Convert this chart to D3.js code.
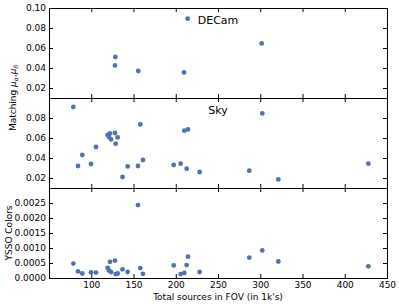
<!DOCTYPE html>
<html>
<head>
<meta charset="utf-8">
<script src="https://cdn.jsdelivr.net/npm/d3@7"></script>
<style>
  body { margin: 0; background: #fff; }
  svg { display: block; font-family: "DejaVu Sans", sans-serif; }
</style>
</head>
<body>
<svg id="chart" width="399" height="307"></svg>
<script>
// DECam matching
const decamX = [128.5, 128.1, 155.7, 209.8, 214.1, 301.7];
const decamY = [0.051, 0.0426, 0.037, 0.0356, 0.0893, 0.0646];

// Sky matching + YSSO colours share the same fields
const skyX = [78.8, 84.3, 89.4, 99.7, 105.6, 119.4, 121.0, 122.2, 123.4, 128.1, 128.9, 131.3,
              137.0, 143.1, 155.3, 158.0, 161.2, 197.6, 205.8, 210.1, 212.9, 214.5, 228.3,
              287.0, 302.4, 321.4, 427.9];
const skyY = [0.091, 0.032, 0.043, 0.034, 0.051, 0.063, 0.061, 0.0646, 0.0586, 0.065, 0.0543, 0.0606,
              0.021, 0.0316, 0.032, 0.0736, 0.038, 0.033, 0.0343, 0.0673, 0.0293, 0.0686, 0.026,
              0.0273, 0.0846, 0.0186, 0.0343];
const yssoY = [0.00048, 0.00022, 0.00015, 0.00019, 0.00018, 0.00034, 0.00025, 0.00054, 0.0002, 0.00058, 0.00013, 0.00015,
               0.00029, 0.0002, 0.00243, 0.00033, 0.00014, 0.00042, 0.00013, 0.00017, 0.00043, 0.00071, 0.0002,
               0.00068, 0.00092, 0.00055, 0.00039];

const xTicks = [100, 150, 200, 250, 300, 350, 400, 450];
const matchTicks = [0.02, 0.04, 0.06, 0.08, 0.10];
const yssoTicks = [0, 0.0005, 0.001, 0.0015, 0.002, 0.0025, 0.003];

const svg = d3.select('#chart');
const left = 49, right = 387, panelH = 90, top0 = 8;
const dotColor = '#4c72b0';

const x = d3.scaleLinear().domain([50, 450]).range([left, right]);

const panels = [
  { xs: decamX, ys: decamY, domain: [0.01, 0.10], ticks: matchTicks, fmt: d3.format('.2f'), labels: [0.02, 0.04, 0.06, 0.08, 0.10], title: 'DECam' },
  { xs: skyX, ys: skyY, domain: [0.01, 0.10], ticks: matchTicks, fmt: d3.format('.2f'), labels: [0.02, 0.04, 0.06, 0.08], title: 'Sky' },
  { xs: skyX, ys: yssoY, domain: [0, 0.003], ticks: yssoTicks, fmt: d3.format('.4f'), labels: [0, 0.0005, 0.001, 0.0015, 0.002, 0.0025], title: null }
];

panels.forEach((p, i) => {
  const t = top0 + i * panelH, b = t + panelH;
  const y = d3.scaleLinear().domain(p.domain).range([b, t]);
  const g = svg.append('g');

  // left axis with labels, ticks pointing inward
  g.append('g')
    .attr('transform', `translate(${left},0)`)
    .call(d3.axisLeft(y).tickValues(p.labels).tickFormat(p.fmt).tickSize(-4).tickPadding(3))
    .call(a => a.select('.domain').remove())
    .call(a => a.selectAll('text').attr('font-size', 9).attr('font-family', 'DejaVu Sans').attr('fill', '#000'))
    .call(a => a.selectAll('line').attr('stroke', '#000'));

  // right ticks
  g.append('g')
    .attr('transform', `translate(${right},0)`)
    .call(d3.axisRight(y).tickValues(p.ticks).tickFormat('').tickSize(-4))
    .call(a => a.select('.domain').remove())
    .call(a => a.selectAll('line').attr('stroke', '#000'));

  // top and bottom ticks
  g.append('g')
    .attr('transform', `translate(0,${t})`)
    .call(d3.axisTop(x).tickValues(xTicks).tickFormat('').tickSize(-4))
    .call(a => a.select('.domain').remove())
    .call(a => a.selectAll('line').attr('stroke', '#000'));

  const bottom = g.append('g')
    .attr('transform', `translate(0,${b})`)
    .call(d3.axisBottom(x).tickValues(xTicks).tickFormat(i === 2 ? d3.format('d') : '').tickSize(-4).tickPadding(4))
    .call(a => a.select('.domain').remove())
    .call(a => a.selectAll('line').attr('stroke', '#000'));
  bottom.selectAll('text').attr('font-size', 9).attr('font-family', 'DejaVu Sans').attr('fill', '#000');

  g.selectAll('circle')
    .data(p.xs.map((v, k) => [v, p.ys[k]]))
    .join('circle')
    .attr('cx', d => x(d[0]))
    .attr('cy', d => y(d[1]))
    .attr('r', 2.4)
    .attr('fill', dotColor);

  g.append('rect')
    .attr('x', left + 0.5).attr('y', t + 0.5)
    .attr('width', right - left).attr('height', panelH)
    .attr('fill', 'none').attr('stroke', '#000').attr('stroke-width', 1);

  if (p.title) {
    g.append('text')
      .attr('x', (left + right) / 2).attr('y', t + 16)
      .attr('text-anchor', 'middle')
      .attr('font-size', 11)
      .text(p.title);
  }
});

// axis labels
svg.append('text')
  .attr('x', (left + right) / 2).attr('y', 300)
  .attr('text-anchor', 'middle').attr('font-size', 9)
  .text("Total sources in FOV (in 1k's)");

const ml = svg.append('text')
  .attr('transform', `translate(16,${top0 + panelH}) rotate(-90)`)
  .attr('text-anchor', 'middle').attr('font-size', 9);
ml.append('tspan').text('Matching ');
ml.append('tspan').attr('font-style', 'italic').text('μ');
ml.append('tspan').attr('font-size', 6).attr('font-style', 'italic').attr('dy', 2).text('α');
ml.append('tspan').attr('dy', -2).text(',');
ml.append('tspan').attr('font-style', 'italic').text('μ');
ml.append('tspan').attr('font-size', 6).attr('font-style', 'italic').attr('dy', 2).text('δ');

svg.append('text')
  .attr('transform', `translate(12,${top0 + panelH * 2.5}) rotate(-90)`)
  .attr('text-anchor', 'middle').attr('font-size', 9)
  .text('YSSO Colors');
</script>
</body>
</html>
